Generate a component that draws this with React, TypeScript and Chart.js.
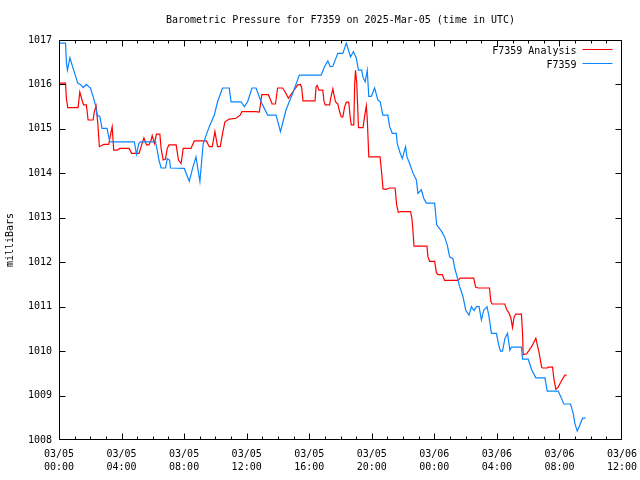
import React, { useEffect, useRef } from "react";
import { Chart, registerables } from "chart.js";

Chart.register(...registerables);

const TITLE = "Barometric Pressure for F7359 on 2025-Mar-05 (time in UTC)";
const Y_TITLE = "milliBars";
const SERIES_NAMES = ["F7359 Analysis", "F7359"];
const SERIES_COLORS = ["#ff0000", "#0a84ff"];
const DAY_LABELS = ["03/05", "03/06"];
const X_MIN = 0;
const X_MAX = 36;
const X_MAJOR = 4;
const Y_MIN = 1008;
const Y_MAX = 1017;
const FONT = "'DejaVu Sans Mono', monospace";

// [hours since 03/05 00:00 UTC, milliBars]
const ANALYSIS: [number, number][] = [
  [0, 1016.03], [0.42, 1016.03], [0.47, 1015.69], [0.56, 1015.48], [1.22, 1015.48],
  [1.33, 1015.83], [1.47, 1015.65], [1.57, 1015.54], [1.75, 1015.54], [1.86, 1015.2],
  [2.18, 1015.2], [2.26, 1015.39], [2.37, 1015.52], [2.48, 1015.13], [2.58, 1014.6],
  [2.86, 1014.65], [3.18, 1014.65], [3.29, 1014.86], [3.4, 1015.05], [3.5, 1014.52],
  [3.72, 1014.52], [3.89, 1014.56], [4.48, 1014.56], [4.64, 1014.45], [5.12, 1014.45],
  [5.25, 1014.6], [5.43, 1014.8], [5.59, 1014.64], [5.75, 1014.64], [5.89, 1014.75],
  [5.96, 1014.85], [6.1, 1014.67], [6.23, 1014.88], [6.45, 1014.88], [6.53, 1014.56],
  [6.66, 1014.3], [6.81, 1014.32], [6.92, 1014.56], [7.03, 1014.64], [7.49, 1014.64],
  [7.64, 1014.3], [7.81, 1014.22], [7.94, 1014.56], [8.44, 1014.56], [8.65, 1014.73],
  [9.42, 1014.73], [9.61, 1014.6], [9.8, 1014.6], [9.97, 1014.94], [10.14, 1014.6],
  [10.31, 1014.6], [10.46, 1014.9], [10.61, 1015.16], [10.89, 1015.22], [11.32, 1015.24],
  [11.58, 1015.31], [11.7, 1015.39], [12.56, 1015.39], [12.81, 1015.38], [12.97, 1015.77],
  [13.39, 1015.77], [13.63, 1015.56], [13.84, 1015.56], [13.98, 1015.92], [14.3, 1015.92],
  [14.46, 1015.83], [14.67, 1015.69], [14.84, 1015.78], [15.05, 1015.88], [15.26, 1015.99],
  [15.44, 1016.0], [15.52, 1015.92], [15.6, 1015.63], [16.37, 1015.63], [16.44, 1015.95],
  [16.51, 1015.98], [16.62, 1015.87], [16.87, 1015.87], [16.94, 1015.63], [17.02, 1015.54],
  [17.3, 1015.54], [17.4, 1015.73], [17.51, 1015.9], [17.58, 1015.77], [17.68, 1015.61],
  [17.83, 1015.56], [17.94, 1015.39], [18.05, 1015.27], [18.15, 1015.27], [18.26, 1015.49],
  [18.37, 1015.6], [18.53, 1015.6], [18.61, 1015.29], [18.69, 1015.09], [18.85, 1015.09],
  [18.91, 1016.03], [18.96, 1016.32], [19.04, 1016.03], [19.15, 1015.03], [19.44, 1015.03],
  [19.54, 1015.28], [19.65, 1015.52], [19.71, 1015.24], [19.81, 1014.37], [20.53, 1014.37],
  [20.63, 1014.02], [20.72, 1013.65], [20.91, 1013.64], [21.14, 1013.67], [21.49, 1013.67],
  [21.59, 1013.29], [21.7, 1013.12], [21.84, 1013.14], [22.48, 1013.14], [22.57, 1012.98],
  [22.63, 1012.72], [22.7, 1012.36], [23.53, 1012.36], [23.59, 1012.12], [23.7, 1012.02],
  [24.02, 1012.02], [24.13, 1011.77], [24.23, 1011.72], [24.51, 1011.72], [24.66, 1011.59],
  [25.5, 1011.59], [25.65, 1011.64], [26.52, 1011.64], [26.64, 1011.44], [26.8, 1011.42],
  [27.53, 1011.42], [27.61, 1011.12], [27.69, 1011.06], [28.51, 1011.06], [28.62, 1010.94],
  [28.78, 1010.85], [28.89, 1010.75], [29.0, 1010.53], [29.1, 1010.77], [29.21, 1010.83],
  [29.57, 1010.83], [29.64, 1010.4], [29.68, 1009.92], [29.9, 1009.94], [30.22, 1010.1],
  [30.49, 1010.29], [30.7, 1009.96], [30.86, 1009.64], [30.92, 1009.62], [31.22, 1009.62],
  [31.28, 1009.64], [31.56, 1009.64], [31.64, 1009.39], [31.77, 1009.14], [31.92, 1009.19],
  [32.14, 1009.34], [32.35, 1009.46], [32.46, 1009.46],
];

const OBSERVED: [number, number][] = [
  [0, 1016.93], [0.42, 1016.93], [0.47, 1016.5], [0.54, 1016.32], [0.7, 1016.6],
  [0.9, 1016.36], [1.04, 1016.21], [1.2, 1016.03], [1.41, 1015.99], [1.54, 1015.93],
  [1.75, 1016.0], [1.9, 1015.95], [2.0, 1015.93], [2.18, 1015.73], [2.33, 1015.54],
  [2.43, 1015.31], [2.61, 1015.28], [2.75, 1015.01], [3.07, 1015.01], [3.25, 1014.71],
  [4.82, 1014.71], [4.95, 1014.43], [5.11, 1014.67], [5.21, 1014.71], [6.17, 1014.71],
  [6.28, 1014.52], [6.39, 1014.3], [6.53, 1014.12], [6.81, 1014.12], [6.92, 1014.33],
  [7.07, 1014.3], [7.13, 1014.12], [8.01, 1014.11], [8.33, 1013.82], [8.54, 1014.11],
  [8.76, 1014.37], [9.01, 1013.82], [9.22, 1014.67], [9.61, 1015.05], [9.93, 1015.31],
  [10.14, 1015.61], [10.46, 1015.92], [10.89, 1015.92], [11.0, 1015.61], [11.64, 1015.61],
  [11.85, 1015.5], [12.06, 1015.61], [12.34, 1015.92], [12.6, 1015.92], [12.92, 1015.61],
  [13.34, 1015.31], [13.88, 1015.31], [14.16, 1014.94], [14.52, 1015.43], [14.94, 1015.8],
  [15.37, 1016.21], [16.76, 1016.21], [16.98, 1016.4], [17.19, 1016.53], [17.34, 1016.4],
  [17.51, 1016.41], [17.83, 1016.7], [18.15, 1016.7], [18.37, 1016.93], [18.64, 1016.62],
  [18.83, 1016.74], [19.01, 1016.59], [19.15, 1016.32], [19.36, 1016.32], [19.43, 1016.17],
  [19.58, 1016.06], [19.71, 1016.32], [19.81, 1015.73], [19.97, 1015.73], [20.18, 1015.92],
  [20.39, 1015.65], [20.54, 1015.61], [20.71, 1015.31], [21.03, 1015.31], [21.14, 1015.05],
  [21.31, 1014.9], [21.57, 1014.9], [21.63, 1014.67], [21.82, 1014.45], [21.95, 1014.33],
  [22.16, 1014.6], [22.25, 1014.37], [22.42, 1014.22], [22.63, 1014.01], [22.85, 1013.85],
  [22.95, 1013.55], [23.17, 1013.63], [23.32, 1013.44], [23.49, 1013.33], [24.02, 1013.33],
  [24.15, 1012.84], [24.45, 1012.7], [24.66, 1012.57], [24.83, 1012.38], [24.98, 1012.12],
  [25.19, 1012.08], [25.3, 1011.87], [25.45, 1011.68], [25.62, 1011.45], [25.83, 1011.23],
  [26.01, 1010.92], [26.22, 1010.81], [26.37, 1011.0], [26.54, 1010.91], [26.69, 1011.0],
  [26.86, 1011.0], [27.01, 1010.7], [27.16, 1010.92], [27.37, 1011.0], [27.5, 1010.77],
  [27.65, 1010.4], [27.97, 1010.4], [28.12, 1010.13], [28.23, 1010.0], [28.36, 1010.0],
  [28.51, 1010.28], [28.68, 1010.4], [28.83, 1010.02], [28.93, 1010.09], [29.57, 1010.09],
  [29.64, 1009.82], [30.0, 1009.82], [30.22, 1009.58], [30.49, 1009.4], [31.07, 1009.4],
  [31.22, 1009.1], [31.92, 1009.1], [32.09, 1008.97], [32.28, 1008.81], [32.71, 1008.81],
  [32.88, 1008.6], [32.99, 1008.37], [33.14, 1008.2], [33.26, 1008.3], [33.48, 1008.49],
  [33.67, 1008.49],
];

const SERIES = [ANALYSIS, OBSERVED];

function timeLabel(h: number): string[] {
  const day = DAY_LABELS[Math.floor(h / 24)] ?? DAY_LABELS[DAY_LABELS.length - 1];
  const hh = String(Math.round(h) % 24).padStart(2, "0");
  return [day, `${hh}:00`];
}

const gnuplotDecor = {
  id: "gnuplotDecor",
  afterDraw(chart: any) {
    const { ctx, chartArea: a, scales } = chart;
    const xs = scales.x;
    const ys = scales.y;
    const L = Math.round(a.left) + 0.5;
    const R = Math.round(a.right) - 0.5;
    const T = Math.round(a.top) + 0.5;
    const B = Math.round(a.bottom) - 0.5;
    ctx.save();
    ctx.strokeStyle = "#000";
    ctx.lineWidth = 1;
    ctx.beginPath();
    ctx.rect(L, T, R - L, B - T);
    for (let h = X_MIN; h <= X_MAX; h += 1) {
      const px = Math.min(R, Math.max(L, Math.round(xs.getPixelForValue(h)) + 0.5));
      const len = h % X_MAJOR === 0 ? 6 : 3;
      ctx.moveTo(px, B);
      ctx.lineTo(px, B - len);
      ctx.moveTo(px, T);
      ctx.lineTo(px, T + len);
    }
    for (let v = Y_MIN; v <= Y_MAX; v += 1) {
      const py = Math.min(B, Math.max(T, Math.round(ys.getPixelForValue(v)) + 0.5));
      ctx.moveTo(L, py);
      ctx.lineTo(L + 6, py);
      ctx.moveTo(R, py);
      ctx.lineTo(R - 6, py);
    }
    ctx.stroke();

    ctx.fillStyle = "#000";
    ctx.font = `10px ${FONT}`;
    ctx.textBaseline = "middle";
    ctx.textAlign = "center";
    ctx.fillText(TITLE, (a.left + a.right) / 2, 20);

    ctx.save();
    ctx.translate(10, (a.top + a.bottom) / 2);
    ctx.rotate(-Math.PI / 2);
    ctx.fillText(Y_TITLE, 0, 0);
    ctx.restore();

    ctx.textAlign = "right";
    SERIES_NAMES.forEach((name, i) => {
      const ly = 50 + i * 14;
      ctx.fillStyle = "#000";
      ctx.fillText(name, R - 45, ly + 1);
      ctx.strokeStyle = SERIES_COLORS[i];
      ctx.beginPath();
      ctx.moveTo(R - 39, ly - 0.5);
      ctx.lineTo(R - 9, ly - 0.5);
      ctx.stroke();
    });
    ctx.restore();
  },
};

export default function App() {
  const canvasRef = useRef<HTMLCanvasElement | null>(null);

  useEffect(() => {
    const canvas = canvasRef.current;
    if (!canvas) return;
    const chart = new Chart(canvas, {
      type: "line",
      data: {
        datasets: SERIES.map((pts, i) => ({
          label: SERIES_NAMES[i],
          data: pts.map(([x, y]) => ({ x, y })),
          borderColor: SERIES_COLORS[i],
          backgroundColor: SERIES_COLORS[i],
          borderWidth: 1.2,
          pointRadius: 0,
          tension: 0,
          fill: false,
          order: SERIES.length - i,
        })),
      },
      options: {
        animation: false,
        responsive: false,
        devicePixelRatio: 1,
        layout: { padding: { left: 0, right: 18, top: 40, bottom: 0 } },
        plugins: {
          legend: { display: false },
          title: { display: false },
          tooltip: { enabled: false },
        },
        scales: {
          x: {
            type: "linear",
            min: X_MIN,
            max: X_MAX,
            grid: { display: false, drawTicks: false },
            border: { display: false },
            afterFit: (scale: any) => {
              scale.height = 40;
              scale.paddingLeft = 0;
              scale.paddingRight = 0;
            },
            ticks: {
              stepSize: X_MAJOR,
              autoSkip: false,
              maxRotation: 0,
              minRotation: 0,
              padding: 8,
              color: "#000",
              font: { family: FONT, size: 10, lineHeight: 1.3 },
              callback: (v: any) => timeLabel(Number(v)),
            },
          },
          y: {
            type: "linear",
            min: Y_MIN,
            max: Y_MAX,
            grid: { display: false, drawTicks: false },
            border: { display: false },
            afterFit: (scale: any) => {
              scale.width = 59;
              scale.paddingTop = 0;
              scale.paddingBottom = 0;
            },
            ticks: {
              stepSize: 1,
              padding: 7,
              color: "#000",
              font: { family: FONT, size: 10 },
              callback: (v: any) => String(v),
            },
          },
        },
      },
      plugins: [gnuplotDecor],
    });
    return () => chart.destroy();
  }, []);

  return (
    <div style={{ position: "fixed", left: 0, top: 0, width: 640, height: 480, background: "#fff" }}>
      <canvas ref={canvasRef} width={640} height={480} />
    </div>
  );
}
